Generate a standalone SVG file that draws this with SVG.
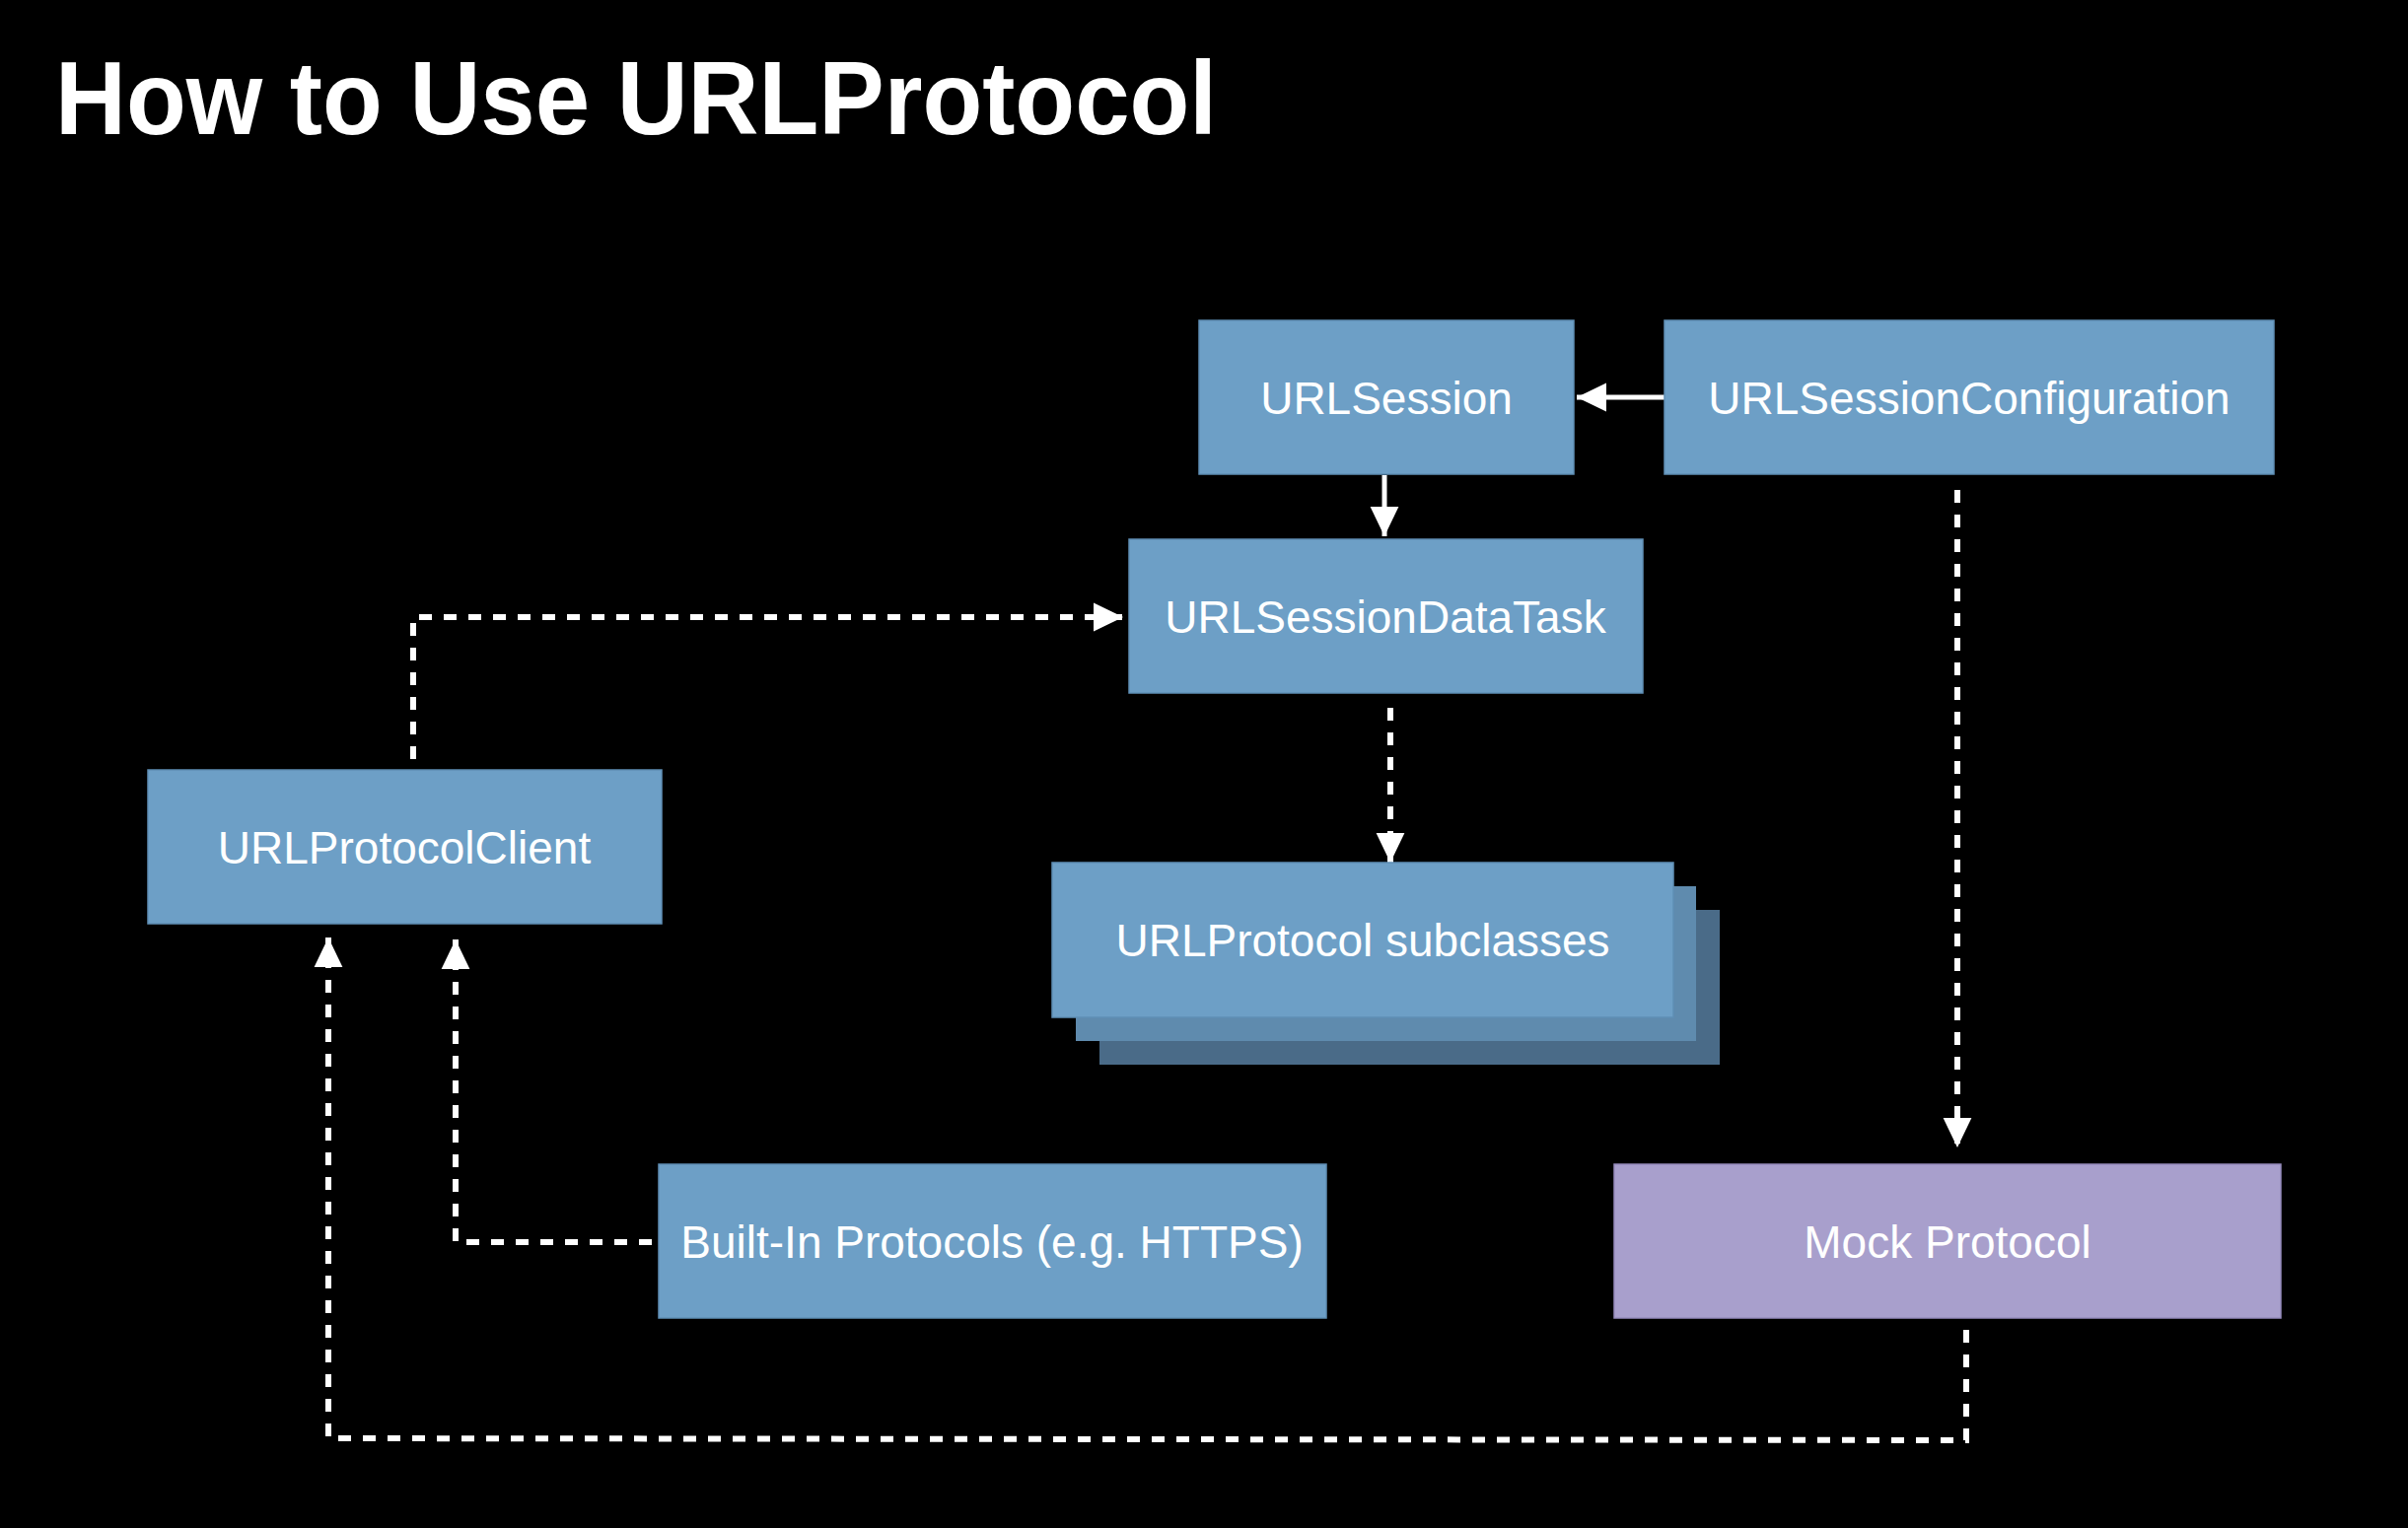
<svg xmlns="http://www.w3.org/2000/svg" width="2442" height="1550" viewBox="0 0 2442 1550">
  <style>
    .box { fill: #6d9fc6; stroke: #5f8fb5; stroke-width: 1.5; }
    .mock { fill: #a89fcc; stroke: #958bbc; stroke-width: 1.5; }
    .lbl { font-family: "Liberation Sans", Arial, sans-serif; font-size: 46px; fill: #ffffff; text-anchor: middle; }
    .title { font-family: "Liberation Sans", Arial, sans-serif; font-weight: bold; font-size: 105px; fill: #ffffff; }
    .solid { fill: none; stroke: #ffffff; stroke-width: 5; }
    .dash { fill: none; stroke: #ffffff; stroke-width: 6; stroke-dasharray: 13 12; }
  </style>
  <defs>
    <marker id="head" markerUnits="userSpaceOnUse" markerWidth="30" markerHeight="30" viewBox="0 0 25 24" refX="25" refY="12" orient="auto">
      <polygon points="0,0 25,12 0,24" fill="#ffffff"/>
    </marker>
  </defs>
  <rect x="0" y="0" width="2442" height="1550" fill="#000000"/>
  <text class="title" x="56" y="136" textLength="1178" lengthAdjust="spacingAndGlyphs">How to Use URLProtocol</text>

  <g id="connectors">
    <path class="solid" d="M1688,403 L1599,403" marker-end="url(#head)"/>
    <path class="solid" d="M1404,482 L1404,544" marker-end="url(#head)"/>
    <path class="dash" d="M419,770 L419,626 L1139,626" marker-end="url(#head)"/>
    <path class="dash" d="M1410,718 L1410,875" marker-end="url(#head)"/>
    <path class="dash" d="M1985,497 L1985,1164" marker-end="url(#head)"/>
    <path class="dash" d="M661,1260 L462,1260 L462,953" marker-end="url(#head)"/>
    <path class="dash" d="M1994,1349 L1994,1461 L333,1459 L333,951" marker-end="url(#head)"/>
  </g>

  <g id="node-urlsession">
    <rect class="box" x="1216" y="325" width="380" height="156"/>
    <text class="lbl" x="1406" y="420">URLSession</text>
  </g>
  <g id="node-urlsessionconfiguration">
    <rect class="box" x="1688" y="325" width="618" height="156"/>
    <text class="lbl" x="1997" y="420">URLSessionConfiguration</text>
  </g>
  <g id="node-urlsessiondatatask">
    <rect class="box" x="1145" y="547" width="521" height="156"/>
    <text class="lbl" x="1405" y="642">URLSessionDataTask</text>
  </g>
  <g id="node-urlprotocolclient">
    <rect class="box" x="150" y="781" width="521" height="156"/>
    <text class="lbl" x="410" y="876">URLProtocolClient</text>
  </g>
  <g id="node-urlprotocol-subclasses">
    <rect x="1115" y="923" width="629" height="157" fill="#4a6b88"/>
    <rect x="1091" y="899" width="629" height="157" fill="#5f8bae"/>
    <rect class="box" x="1067" y="875" width="630" height="157"/>
    <text class="lbl" x="1382" y="970">URLProtocol subclasses</text>
  </g>
  <g id="node-builtin-protocols">
    <rect class="box" x="668" y="1181" width="677" height="156"/>
    <text class="lbl" x="1006" y="1276">Built-In Protocols (e.g. HTTPS)</text>
  </g>
  <g id="node-mock-protocol">
    <rect class="mock" x="1637" y="1181" width="676" height="156"/>
    <text class="lbl" x="1975" y="1276">Mock Protocol</text>
  </g>
</svg>
